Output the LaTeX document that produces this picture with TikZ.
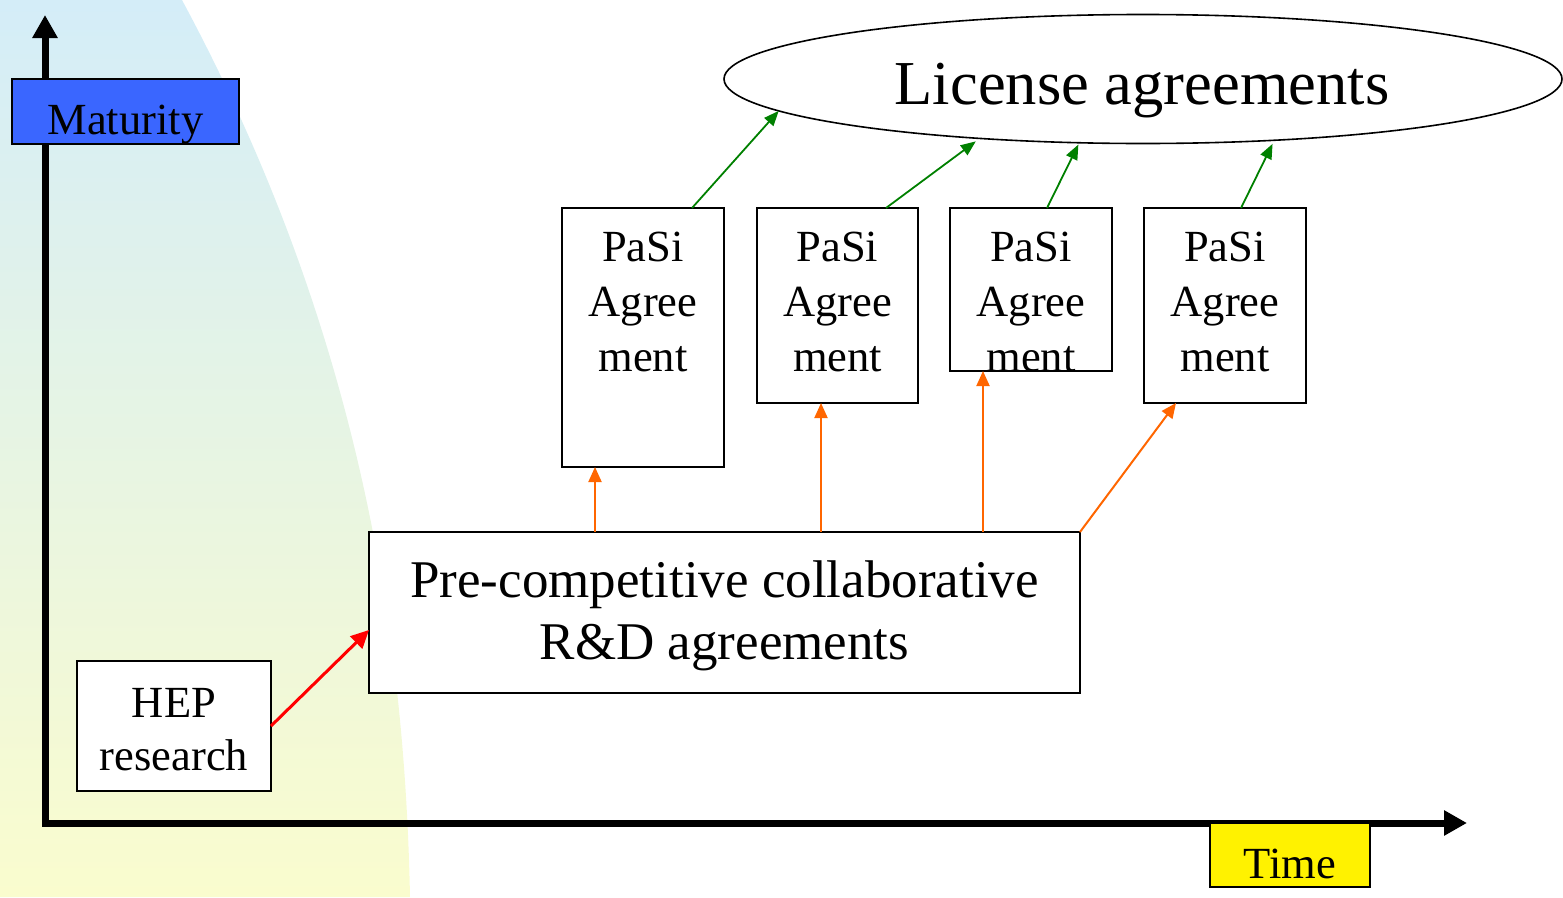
\documentclass[tikz,border=0pt]{standalone}
\usepackage{fontspec}
\setmainfont{Liberation Serif}
\usetikzlibrary{arrows.meta,shapes.geometric,calc}
\definecolor{bgtop}{RGB}{212,237,248}
\definecolor{bgbot}{RGB}{250,252,206}
\definecolor{matblue}{RGB}{58,102,255}
\definecolor{orng}{RGB}{255,102,0}
\definecolor{grn}{RGB}{0,128,0}
\begin{document}
\begin{tikzpicture}[x=1pt,y=-1pt,
  box/.style={draw=black, line width=1.6pt, fill=white, rectangle, inner sep=0pt, outer sep=0pt, anchor=north west},
  txtmid/.style={font=\fontsize{44.5}{55}\selectfont, align=center, inner sep=0pt},
  txtbig/.style={font=\fontsize{53}{62}\selectfont, align=center, inner sep=0pt},
  axisline/.style={line width=7pt, -{Triangle[width=24pt,length=23pt]}},
  redarr/.style={draw=red, line width=3pt, -{Triangle[width=17pt,length=18pt]}},
  orarr/.style={draw=orng, line width=2pt, -{Triangle[width=13pt,length=15pt]}, fill=orng},
  grarr/.style={draw=grn, line width=1.8pt, -{Triangle[width=12pt,length=15pt]}, fill=grn}
]
\useasboundingbox (0,0) rectangle (1563,897);
% background
\shade[top color=bgtop, bottom color=bgbot] (0,0) -- (182,0) .. controls (365,340) and (405,650) .. (410,897) -- (0,897) -- cycle;
% axes
\coordinate (orig) at (45,823);
\coordinate (ytop) at (45,15);
\coordinate (xend) at (1467,823);
\draw[axisline] (45,826) -- (ytop);
\draw[axisline] (42,823) -- (xend);
% axis labels
\node[box, fill=matblue, minimum width=227pt, minimum height=65pt] (mat) at (12,79) {};
\node[txtmid, anchor=base] (matt) at (125.5,134) {Maturity};
\node[box, fill=yellow, minimum width=160pt, minimum height=64pt] (time) at (1210,823) {};
\node[txtmid, anchor=base] (timet) at (1290,878) {Time};
% boxes
\node[box, minimum width=194pt, minimum height=130pt] (hep) at (77,661) {};
\node[txtmid, anchor=north, font=\fontsize{44.5}{53}\selectfont] (hept) at (174,688) {HEP\\research};
\node[box, minimum width=711pt, minimum height=161pt] (pre) at (369,532) {};
\node[txtbig, anchor=north] (pret) at (724.5,561) {Pre-competitive collaborative\\R\&D agreements};
\node[box, minimum width=162pt, minimum height=259pt] (p1) at (562,208) {};
\node[box, minimum width=161pt, minimum height=195pt] (p2) at (757,208) {};
\node[box, minimum width=162pt, minimum height=163pt] (p3) at (950,208) {};
\node[box, minimum width=162pt, minimum height=195pt] (p4) at (1144,208) {};
\node[txtmid, anchor=north] (p1t) at (643,232) {PaSi\\Agree\\ment};
\node[txtmid, anchor=north] (p2t) at (837.5,232) {PaSi\\Agree\\ment};
\node[txtmid, anchor=north] (p3t) at (1031,232) {PaSi\\Agree\\ment};
\node[txtmid, anchor=north] (p4t) at (1225,232) {PaSi\\Agree\\ment};
% license ellipse
\node[ellipse, draw=black, line width=1.6pt, inner sep=0pt, outer sep=0pt, minimum width=838pt, minimum height=129pt] (lic) at (1143,79) {};
\node[inner sep=0pt, anchor=base, font=\fontsize{62.5}{70}\selectfont] (lict) at (1142,104) {License agreements};
% connectors
\draw[redarr] (hep.east) -- (pre.west |- 0,630);
\draw[orarr] (pre.north -| 595,0) -- (p1.south -| 595,0);
\draw[orarr] (pre.north -| 821,0) -- (p2.south -| 821,0);
\draw[orarr] (pre.north -| 983,0) -- (p3.south -| 983,0);
\draw[orarr] (pre.north east) -- (p4.south -| 1176,0);
\draw[grarr] (p1.north -| 692,0) -- (lic.185.5);
\draw[grarr, shorten >=5pt] (p2.north -| 886,0) -- (lic.200.3);
\draw[grarr, shorten >=2pt] (p3.north -| 1047,0) -- (lic.225.6);
\draw[grarr, shorten >=4pt] (p4.north -| 1241,0) -- (lic.335.3);
\end{tikzpicture}
\end{document}
